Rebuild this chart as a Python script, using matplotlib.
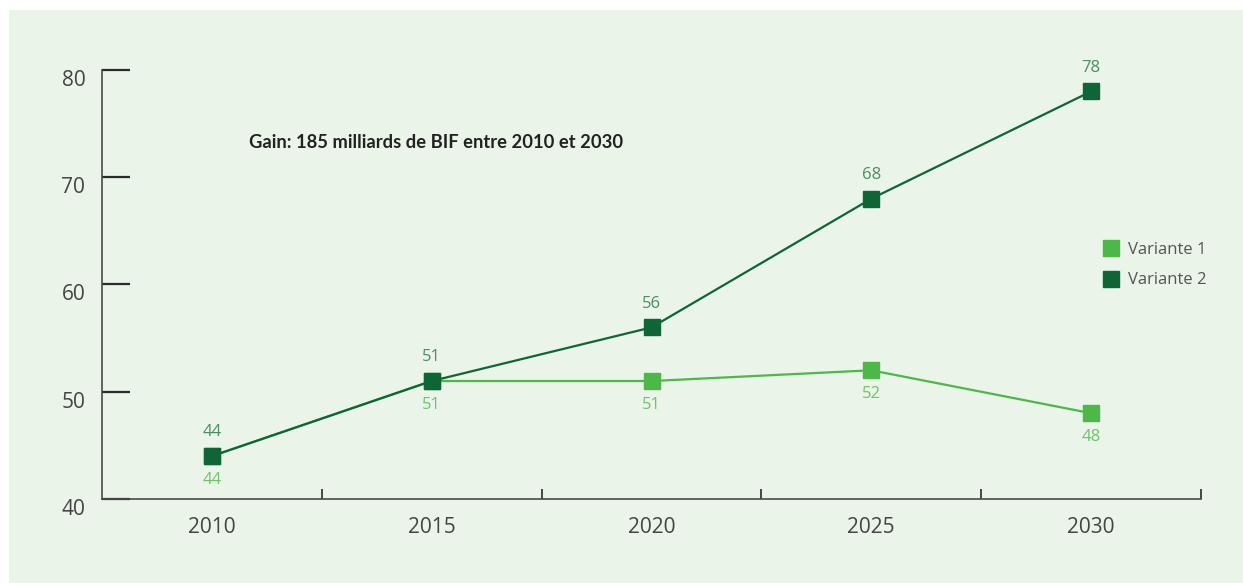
import matplotlib.pyplot as plt
from matplotlib.lines import Line2D
from matplotlib import rcParams
import matplotlib.transforms as mtransforms

rcParams['font.family'] = ['Open Sans', 'DejaVu Sans']

years = ['2010', '2015', '2020', '2025', '2030']
variante_1 = [44, 51, 51, 52, 48]
variante_2 = [44, 51, 56, 68, 78]
y_ticks = [40, 50, 60, 70, 80]

bg = '#eaf4e8'
dark = '#0e6636'
light = '#4cb848'
dark_lbl = '#4a8e62'
light_lbl = '#6cc56b'
axis_col = '#4a4a4a'
text_col = '#444444'

fig = plt.figure(figsize=(12.43, 5.83), dpi=100)
fig.patch.set_facecolor('white')
# light green panel behind the chart
fig.patches.append(plt.Rectangle((9 / 1243, 0), 1, 1 - 10 / 583, transform=fig.transFigure,
                                 facecolor=bg, edgecolor='none', zorder=-1))

ax = fig.add_axes([102 / 1243, 84 / 583, 1099 / 1243, 429 / 583])
ax.set_facecolor('none')
x = list(range(len(years)))

ax.plot(x, variante_1, color=light, lw=1.6, marker='s', ms=11, mec=light, clip_on=False, zorder=3)
ax.plot(x, variante_2, color=dark, lw=1.6, marker='s', ms=11, mec=dark, clip_on=False, zorder=4)

# value labels: variant 2 above, variant 1 below
for i, v in enumerate(variante_2):
    ax.annotate(str(v), (i, v), xytext=(0, 17), textcoords='offset points',
                ha='center', va='center', fontsize=12, color=dark_lbl, annotation_clip=False)
for i, v in enumerate(variante_1):
    ax.annotate(str(v), (i, v), xytext=(0, -17), textcoords='offset points',
                ha='center', va='center', fontsize=12, color=light_lbl, annotation_clip=False)

ax.set_xlim(-0.5, len(years) - 0.5)
ax.set_ylim(40, 80)

for s in ['top', 'right']:
    ax.spines[s].set_visible(False)
for s in ['left', 'bottom']:
    ax.spines[s].set_color(axis_col)
    ax.spines[s].set_linewidth(1.2)

ax.set_yticks(y_ticks)
ax.tick_params(axis='y', direction='in', length=20, width=1.6, color='#2a2a2a',
               labelsize=15, labelcolor=text_col, pad=12)
offset = mtransforms.ScaledTranslation(0, -8 / 100, fig.dpi_scale_trans)
for lbl in ax.get_yticklabels():
    lbl.set_transform(lbl.get_transform() + offset)

ax.set_xticks(x)
ax.set_xticklabels(years)
ax.set_xticks([i + 0.5 for i in x], minor=True)
ax.tick_params(axis='x', which='major', length=0, labelsize=15, labelcolor=text_col, pad=13)
ax.tick_params(axis='x', which='minor', direction='in', length=7, width=1.2, color='#2a2a2a')

ax.text(0.168, 78 - 4.8, 'Gain: 185 milliards de BIF entre 2010 et 2030', ha='left', va='center',
        fontsize=13.2, fontweight='bold', color='#222222', family=['Lato', 'DejaVu Sans'])

handles = [Line2D([], [], ls='none', marker='s', ms=11, color=light),
           Line2D([], [], ls='none', marker='s', ms=11, color=dark)]
leg = ax.legend(handles, ['Variante 1', 'Variante 2'], loc='center left',
                bbox_to_anchor=(1098 / 1243, 318 / 583), bbox_transform=fig.transFigure,
                frameon=False, fontsize=12, handlelength=0.8, handletextpad=0.6,
                labelspacing=0.9, borderaxespad=0)
for t in leg.get_texts():
    t.set_color('#555555')

fig.savefig('out.png', dpi=100, facecolor=fig.get_facecolor())
